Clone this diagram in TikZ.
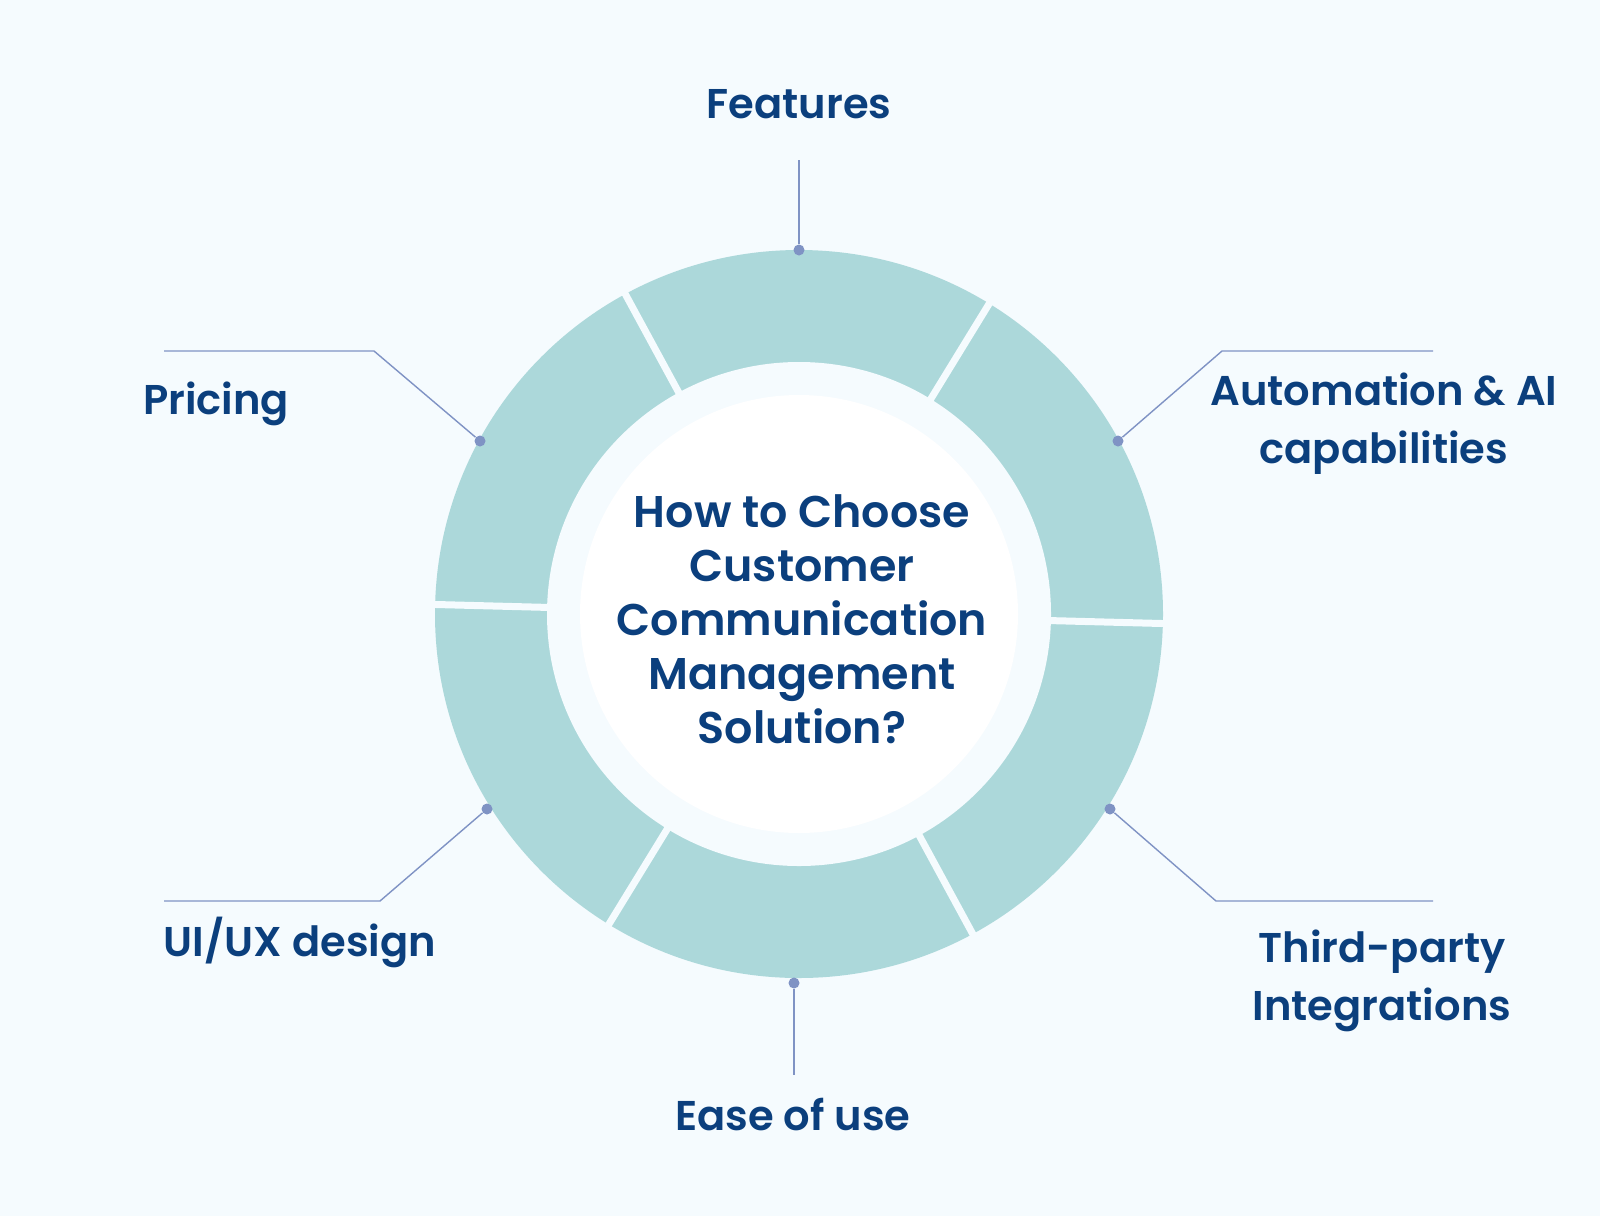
\documentclass[tikz,border=0pt]{standalone}
\usepackage{fontspec}
\setmainfont{Poppins}[BoldFont={Poppins SemiBold}]
\definecolor{bgc}{HTML}{F5FBFE}
\definecolor{ringc}{HTML}{ACD8DA}
\definecolor{txtc}{HTML}{0B3F7D}
\definecolor{leadc}{HTML}{7F93C4}
\begin{document}
\begin{tikzpicture}[x=0.5pt,y=-0.5pt,
  lbl/.style={text=txtc,font=\fontsize{20.8}{29}\selectfont\bfseries,align=center,inner sep=0pt},
  ctr/.style={text=txtc,font=\fontsize{22.2}{27}\selectfont\bfseries,align=center,inner sep=0pt},
  gapline/.style={draw=bgc,line width=3.5pt},
  dotn/.style={circle,fill=leadc,minimum size=5.5pt,inner sep=0pt},
  lead/.style={draw=leadc,line width=0.7pt}]
\fill[bgc] (0,0) rectangle (1600,1216);
\useasboundingbox (0,0) rectangle (1600,1216);
\coordinate (c) at (799,614);
% ring
\fill[ringc] (c) circle (182pt);
\foreach \a in {-1.5,58.5,118.5,178.5,238.5,298.5}
  \draw[gapline] (c) -- ++(-\a:390);
\fill[bgc] (c) circle (126pt);
\fill[white] (c) circle (109.5pt);
% centre text
\node[ctr] (title) at (802,619) {How to Choose\\Customer\\Communication\\Management\\Solution?};
% dots
\node[dotn] (d1) at (799,250) {};
\node[dotn] (d2) at (1118,441) {};
\node[dotn] (d3) at (1110,809) {};
\node[dotn] (d4) at (794,983) {};
\node[dotn] (d5) at (487,809) {};
\node[dotn] (d6) at (480,441) {};
% leader ends
\coordinate (e1) at (799,160);
\coordinate (k2) at (1222,351); \coordinate (e2) at (1433,351);
\coordinate (k3) at (1216,901); \coordinate (e3) at (1433,901);
\coordinate (e4) at (794,1075);
\coordinate (k5) at (380,901); \coordinate (e5) at (164,901);
\coordinate (k6) at (374,351); \coordinate (e6) at (164,351);
\draw[lead] (d1) -- (e1);
\draw[lead] (d2) -- (k2) -- (e2);
\draw[lead] (d3) -- (k3) -- (e3);
\draw[lead] (d4) -- (e4);
\draw[lead] (d5) -- (k5) -- (e5);
\draw[lead] (d6) -- (k6) -- (e6);
% labels
\node[lbl] (l1) at (799,104) {Features};
\node[lbl] (l2) at (1384,424) {Automation \& AI\\capabilities};
\node[lbl] (l3) at (1382,981) {Third-party\\Integrations};
\node[lbl] (l4) at (793,1114) {Ease of use};
\node[lbl] (l5) at (300,942) {UI/UX design};
\node[lbl] (l6) at (216,404) {Pricing};
\end{tikzpicture}
\end{document}
